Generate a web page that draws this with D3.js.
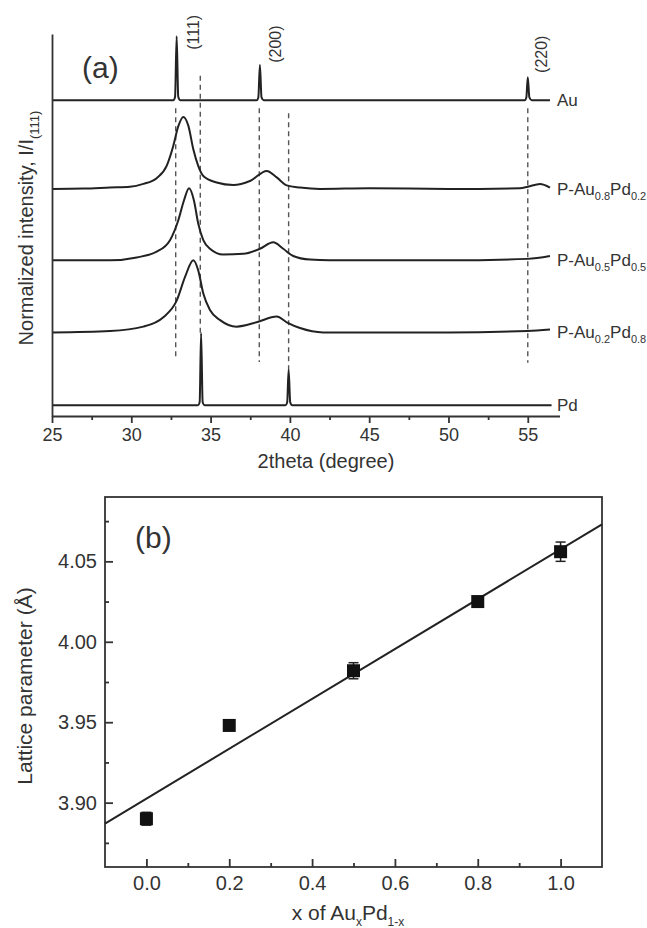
<!DOCTYPE html>
<html>
<head>
<meta charset="utf-8">
<script src="https://cdn.jsdelivr.net/npm/d3@7"></script>
<style>
  body { margin: 0; background: #fff; }
  svg text { font-family: "Liberation Sans", Arial, sans-serif; fill: #333; }
</style>
</head>
<body>
<script>
// ---- panel (a): XRD patterns, [2theta, intensity above the trace's own baseline]
const traceLabels = [
  [["Au"]],
  [["P-Au", "0.8"], ["Pd", "0.2"]],
  [["P-Au", "0.5"], ["Pd", "0.5"]],
  [["P-Au", "0.2"], ["Pd", "0.8"]],
  [["Pd"]]
];
const traceOffsets = [4.38, 3.15, 2.16, 1.16, 0.15];

const auPattern = [[25, 0], [32.65, 0], [32.76, 0.05], [32.86, 0.89], [32.96, 0.05], [33.1, 0],
  [37.9, 0], [38.01, 0.04], [38.11, 0.49], [38.21, 0.04], [38.35, 0],
  [54.8, 0], [54.91, 0.04], [55.0, 0.32], [55.1, 0.04], [55.25, 0], [56.4, 0]];
const au08Pattern = [[25, 0], [27, 0.005], [28.66, 0.02], [29.92, 0.03], [30.76, 0.07], [31.6, 0.15],
  [32.23, 0.32], [32.65, 0.6], [32.97, 0.875], [33.28, 1.0], [33.6, 0.875], [33.91, 0.55],
  [34.22, 0.32], [34.54, 0.18], [35.38, 0.09], [36.43, 0.055], [37.48, 0.11], [38.54, 0.25],
  [39.17, 0.16], [39.8, 0.05], [40.64, 0.02], [41.9, 0.0], [45, 0.01], [50, 0],
  [54.5, 0.01], [55.0, 0.03], [55.77, 0.07], [56.4, 0.02]];
const au05Pattern = [[25, 0], [28.66, 0], [30.34, 0.04], [31.6, 0.12], [32.44, 0.28], [32.97, 0.56],
  [33.32, 0.83], [33.64, 1.0], [33.95, 0.83], [34.22, 0.51], [34.54, 0.28], [34.96, 0.16],
  [35.8, 0.08], [37.06, 0.09], [38.11, 0.16], [38.95, 0.25], [39.58, 0.16], [40.21, 0.06],
  [41.27, 0.01], [42.5, 0], [50, 0], [55.0, 0.02], [56.4, 0.06]];
const au02Pattern = [[25, 0], [28.66, 0.02], [30.76, 0.08], [32.02, 0.21], [32.86, 0.44], [33.39, 0.77],
  [33.91, 1.0], [34.22, 0.86], [34.54, 0.54], [34.96, 0.31], [35.6, 0.17], [36.64, 0.08],
  [37.9, 0.14], [39.17, 0.22], [39.8, 0.14], [40.64, 0.06], [42.1, 0], [50, 0],
  [55.0, 0.02], [56.4, 0.04]];
const pdPattern = [[25, 0], [34.2, 0], [34.31, 0.04], [34.4, 1.0], [34.5, 0.04], [34.62, 0],
  [39.72, 0], [39.83, 0.04], [39.92, 0.49], [40.02, 0.04], [40.15, 0], [56.5, 0]];
const patterns = [auPattern, au08Pattern, au05Pattern, au02Pattern, pdPattern];

// reference (dashed) lines: 2theta, top and bottom in intensity units
const refTheta = [32.8, 34.35, 38.07, 39.92, 55.0];
const refTop = [4.27, 4.72, 4.27, 4.2, 4.27];
const refBottom = [0.78, 1.15, 0.75, 0.64, 0.74];

const hklText = ["(111)", "(200)", "(220)"];
const hklTheta = [33.89, 39.06, 55.88];
const hklStart = [5.08, 4.9, 4.76];

const xTicksA = [25, 30, 35, 40, 45, 50, 55];
const xMinorA = [27.5, 32.5, 37.5, 42.5, 47.5, 52.5];

// ---- panel (b): lattice parameter vs composition
const compX = [0.0, 0.2, 0.5, 0.8, 1.0];
const latticeA = [3.890, 3.948, 3.982, 4.025, 4.056];
const latticeErr = [0.004, 0.001, 0.005, 0.002, 0.006];
const fitX = [-0.1, 1.1];
const fitY = [3.887, 4.073];

const xTicksB = [0.0, 0.2, 0.4, 0.6, 0.8, 1.0];
const xMinorB = [0.1, 0.3, 0.5, 0.7, 0.9];
const yTicksB = [3.90, 3.95, 4.00, 4.05];
const yMinorB = [3.875, 3.925, 3.975, 4.025, 4.075];

const W = 647, H = 928;
const ink = "#222", axisInk = "#333";

const svg = d3.select("body").append("svg")
  .attr("width", W)
  .attr("height", H);

// text with subscripts: parts = [[main, sub], ...]
function richText(sel, parts, subSize, shift, firstDy) {
  let cur = 0;
  parts.forEach(function(p, k) {
    sel.append("tspan").attr("dy", k === 0 ? (firstDy || 0) : -cur).text(p[0]);
    cur = 0;
    if (p[1]) {
      sel.append("tspan").attr("dy", shift).attr("font-size", subSize).text(p[1]);
      cur = shift;
    }
  });
}

// ================= panel (a) =================
const xA = d3.scaleLinear().domain([25, 57]).range([52, 559.5]);
const yA = d3.scaleLinear().domain([0, 5.3]).range([416, 34]);

const gA = svg.append("g");

// dashed reference lines
gA.selectAll(".ref")
  .data(refTheta)
  .enter()
  .append("line")
    .attr("x1", d => xA(d))
    .attr("x2", d => xA(d))
    .attr("y1", (d, i) => yA(refTop[i]))
    .attr("y2", (d, i) => yA(refBottom[i]))
    .attr("stroke", "#555")
    .attr("stroke-width", 1.4)
    .attr("stroke-dasharray", "5,4");

// traces
patterns.forEach(function(pts, i) {
  const line = d3.line()
    .x(d => xA(d[0]))
    .y(d => yA(d[1] + traceOffsets[i]))
    .curve(d3.curveMonotoneX);
  gA.append("path")
    .attr("d", line(pts))
    .attr("fill", "none")
    .attr("stroke", ink)
    .attr("stroke-width", 2)
    .attr("stroke-linejoin", "round");

  const t = gA.append("text")
    .attr("x", 557)
    .attr("y", yA(traceOffsets[i]) + 6)
    .attr("font-size", 17);
  richText(t, traceLabels[i], 11, 5);
});

// hkl labels
gA.selectAll(".hkl")
  .data(hklText)
  .enter()
  .append("text")
    .attr("transform", (d, i) => `translate(${xA(hklTheta[i])},${yA(hklStart[i])}) rotate(-90)`)
    .attr("dy", "0.35em")
    .attr("font-size", 16)
    .text(d => d);

// axes
gA.append("g")
  .attr("transform", "translate(0,416)")
  .call(d3.axisBottom(xA).tickValues(xTicksA).tickSize(7).tickSizeOuter(0).tickPadding(5))
  .call(g => g.selectAll("text").attr("font-size", 18).attr("fill", "#333"))
  .call(g => g.selectAll("line, path").attr("stroke", axisInk).attr("stroke-width", 1.8));
gA.append("g")
  .attr("transform", "translate(0,416)")
  .call(d3.axisBottom(xA).tickValues(xMinorA).tickSize(4).tickFormat(""))
  .call(g => g.select(".domain").remove())
  .call(g => g.selectAll("line").attr("stroke", axisInk).attr("stroke-width", 1.8));
gA.append("g")
  .attr("transform", "translate(52,0)")
  .call(d3.axisLeft(yA).tickValues([]).tickSizeOuter(0))
  .call(g => g.select(".domain").attr("stroke", axisInk).attr("stroke-width", 1.8));

gA.append("text")
  .attr("x", 82).attr("y", 78)
  .attr("font-size", 30)
  .text("(a)");

gA.append("text")
  .attr("x", 326).attr("y", 468)
  .attr("text-anchor", "middle")
  .attr("font-size", 20)
  .text("2theta (degree)");

const yTitleA = gA.append("text")
  .attr("transform", "translate(26,228) rotate(-90)")
  .attr("text-anchor", "middle")
  .attr("font-size", 20);
yTitleA.append("tspan").attr("dy", "0.35em").text("Normalized intensity, I/I");
yTitleA.append("tspan").attr("dy", 6).attr("font-size", 13).text("(111)");

// ================= panel (b) =================
const xB = d3.scaleLinear().domain([-0.1, 1.1]).range([105, 602]);
const yB = d3.scaleLinear().domain([3.86, 4.09]).range([867, 497]);

const gB = svg.append("g");

gB.append("rect")
  .attr("x", xB(-0.1)).attr("y", yB(4.09))
  .attr("width", xB(1.1) - xB(-0.1))
  .attr("height", yB(3.86) - yB(4.09))
  .attr("fill", "none")
  .attr("stroke", axisInk)
  .attr("stroke-width", 1.8);

gB.append("g")
  .attr("transform", `translate(0,${yB(3.86)})`)
  .call(d3.axisBottom(xB).tickValues(xTicksB).tickSizeInner(-8).tickSizeOuter(0).tickPadding(9)
    .tickFormat(d3.format(".1f")))
  .call(g => g.select(".domain").remove())
  .call(g => g.selectAll("text").attr("font-size", 20).attr("fill", "#333"))
  .call(g => g.selectAll("line").attr("stroke", axisInk).attr("stroke-width", 1.8));
gB.append("g")
  .attr("transform", `translate(0,${yB(3.86)})`)
  .call(d3.axisBottom(xB).tickValues(xMinorB).tickSizeInner(-4).tickSizeOuter(0).tickFormat(""))
  .call(g => g.select(".domain").remove())
  .call(g => g.selectAll("line").attr("stroke", axisInk).attr("stroke-width", 1.8));
gB.append("g")
  .attr("transform", `translate(${xB(-0.1)},0)`)
  .call(d3.axisLeft(yB).tickValues(yTicksB).tickSizeInner(-8).tickSizeOuter(0).tickPadding(8)
    .tickFormat(d3.format(".2f")))
  .call(g => g.select(".domain").remove())
  .call(g => g.selectAll("text").attr("font-size", 20).attr("fill", "#333"))
  .call(g => g.selectAll("line").attr("stroke", axisInk).attr("stroke-width", 1.8));
gB.append("g")
  .attr("transform", `translate(${xB(-0.1)},0)`)
  .call(d3.axisLeft(yB).tickValues(yMinorB).tickSizeInner(-4).tickSizeOuter(0).tickFormat(""))
  .call(g => g.select(".domain").remove())
  .call(g => g.selectAll("line").attr("stroke", axisInk).attr("stroke-width", 1.8));

// linear fit
gB.append("line")
  .attr("x1", xB(fitX[0])).attr("y1", yB(fitY[0]))
  .attr("x2", xB(fitX[1])).attr("y2", yB(fitY[1]))
  .attr("stroke", ink)
  .attr("stroke-width", 2);

// error bars
const errG = gB.selectAll(".err")
  .data(compX)
  .enter()
  .append("g")
    .attr("stroke", ink)
    .attr("stroke-width", 1.5);
errG.append("line")
  .attr("x1", d => xB(d)).attr("x2", d => xB(d))
  .attr("y1", (d, i) => yB(latticeA[i] - latticeErr[i]))
  .attr("y2", (d, i) => yB(latticeA[i] + latticeErr[i]));
errG.append("line")
  .attr("x1", d => xB(d) - 5).attr("x2", d => xB(d) + 5)
  .attr("y1", (d, i) => yB(latticeA[i] - latticeErr[i]))
  .attr("y2", (d, i) => yB(latticeA[i] - latticeErr[i]));
errG.append("line")
  .attr("x1", d => xB(d) - 5).attr("x2", d => xB(d) + 5)
  .attr("y1", (d, i) => yB(latticeA[i] + latticeErr[i]))
  .attr("y2", (d, i) => yB(latticeA[i] + latticeErr[i]));

// square markers
gB.selectAll(".pt")
  .data(compX)
  .enter()
  .append("rect")
    .attr("x", d => xB(d) - 6.5)
    .attr("y", (d, i) => yB(latticeA[i]) - 6.5)
    .attr("width", 13)
    .attr("height", 13)
    .attr("fill", "#111");

gB.append("text")
  .attr("x", 135).attr("y", 548)
  .attr("font-size", 30)
  .text("(b)");

gB.append("text")
  .attr("transform", "translate(25,686) rotate(-90)")
  .attr("text-anchor", "middle")
  .attr("dy", "0.35em")
  .attr("font-size", 21)
  .text("Lattice parameter (Å)");

const xTitleB = gB.append("text")
  .attr("x", 348).attr("y", 920)
  .attr("text-anchor", "middle")
  .attr("font-size", 21);
richText(xTitleB, [["x of Au", "x"], ["Pd", "1-x"]], 12, 6);
</script>
</body>
</html>
